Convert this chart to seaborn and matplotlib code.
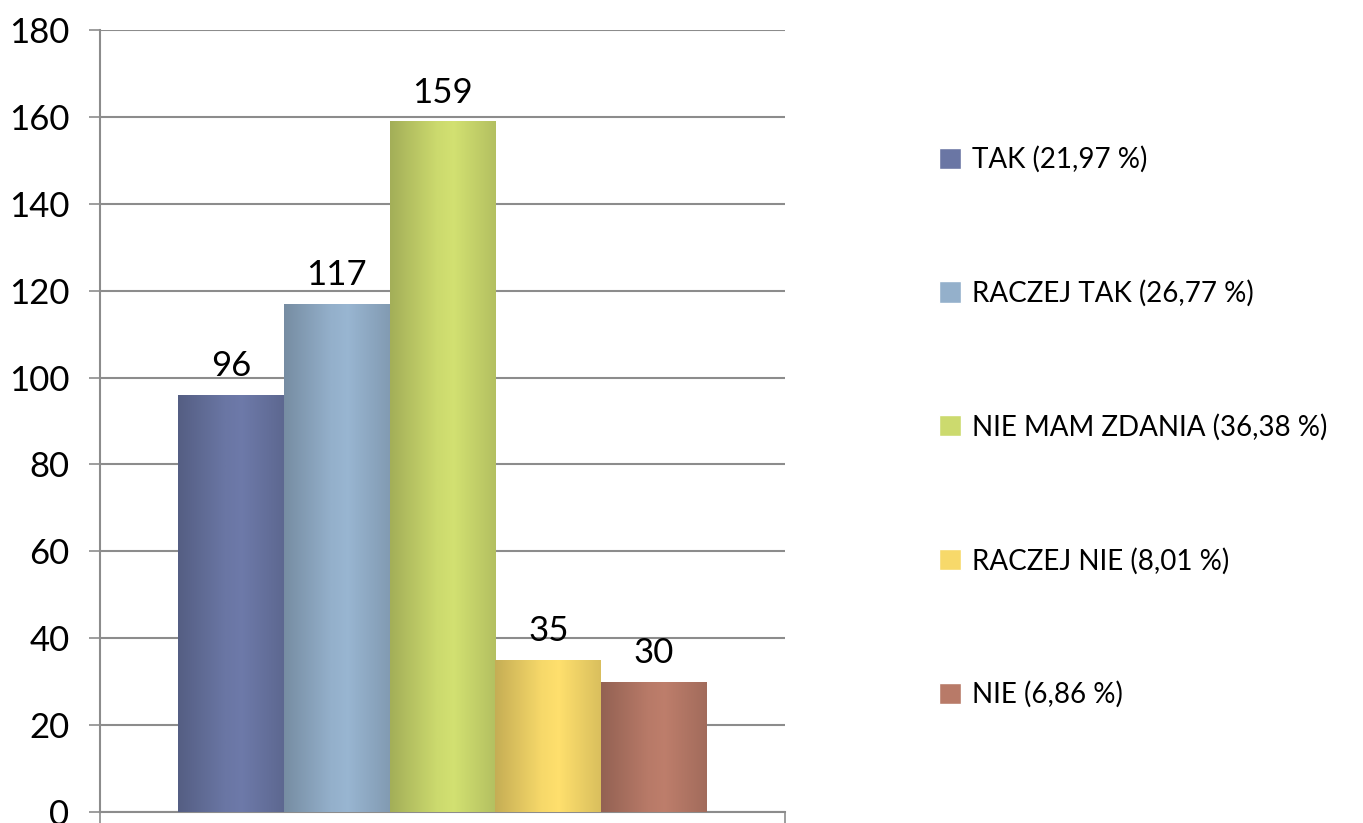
import numpy as np
import pandas as pd
import seaborn as sns
import matplotlib.pyplot as plt
from matplotlib.colors import to_rgb

# Data
labels = ['TAK (21,97 %)', 'RACZEJ TAK (26,77 %)', 'NIE MAM ZDANIA (36,38 %)',
          'RACZEJ NIE (8,01 %)', 'NIE (6,86 %)']
counts = [96, 117, 159, 35, 30]
colors = ['#6A76A4', '#94B0CB', '#CCDA6E', '#F7D96A', '#B87A68']
yticks = [0, 20, 40, 60, 80, 100, 120, 140, 160, 180]

df = pd.DataFrame({'group': [''] * len(labels), 'odp': labels, 'n': counts})

sns.set_theme(style='white')
plt.rcParams['font.family'] = ['Lato', 'DejaVu Sans']
plt.rcParams['text.color'] = 'black'
plt.rcParams['ytick.color'] = 'black'

fig = plt.figure(figsize=(13.63, 8.23), dpi=100)
ax = fig.add_axes([100 / 1363, 1 - 812 / 823, 685 / 1363, 782 / 823])

sns.barplot(data=df, x='group', y='n', hue='odp', palette=colors,
            width=0.772, gap=0, saturation=1, ax=ax, legend=True, zorder=3)

# horizontal shading on each bar
bars = [p for p in ax.patches][:len(counts)]
grad = np.concatenate([np.linspace(0.8, 1.0, 45), np.linspace(1.0, 1.03, 15),
                       np.linspace(1.03, 0.88, 40)])
for p, c in zip(bars, colors):
    x, w, h = p.get_x(), p.get_width(), p.get_height()
    rgb = np.array(to_rgb(c))
    img = np.clip(grad[:, None] * rgb[None, :], 0, 1)[None, :, :]
    im = ax.imshow(img, extent=[x, x + w, 0, h], aspect='auto', zorder=4,
                   interpolation='bilinear')
    im.set_clip_path(p)
    p.set_edgecolor('none')

for cont in ax.containers:
    ax.bar_label(cont, fontsize=25, padding=9, zorder=5, color='black')

ax.set_xlim(-0.5, 0.5)
ax.set_ylim(0, 180)
ax.set_yticks(yticks)
ax.set_xticks([-0.5, 0.5])
ax.set_xticklabels(['', ''])
ax.set_xlabel('')
ax.set_ylabel('')
ax.grid(axis='y', color='#8c8c8c', linewidth=1.5, zorder=0)
ax.set_axisbelow(True)
for s in ['top', 'right']:
    ax.spines[s].set_visible(False)
for s in ['left', 'bottom']:
    ax.spines[s].set_color('#8c8c8c')
    ax.spines[s].set_linewidth(1.5)
ax.tick_params(axis='y', direction='out', length=8, width=1.2, color='#8c8c8c',
               labelsize=25, pad=14, left=True, labelcolor='black')
ax.tick_params(axis='x', direction='out', length=8, width=1.2, color='#8c8c8c',
               bottom=True)

handles, hl = ax.get_legend_handles_labels()
ax.get_legend().remove()
fig.legend(handles, hl, loc='center left', bbox_to_anchor=(928 / 1363, 1 - 427 / 823),
           frameon=False, fontsize=20, labelspacing=3.85, handlelength=0.8,
           handleheight=0.8, handletextpad=0.4, borderaxespad=0, labelcolor='black')

fig.savefig('out.png', dpi=100)
